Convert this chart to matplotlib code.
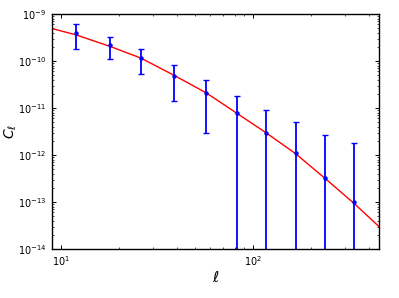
import numpy as np
import matplotlib
matplotlib.use("Agg")
import matplotlib.pyplot as plt
from matplotlib.ticker import NullFormatter

# binned power spectrum estimates
ell = [12, 18, 26, 39, 57, 82, 117, 166, 236, 336]
cl = [3.9e-10, 2.2e-10, 1.16e-10, 4.9e-11, 2.1e-11, 7.8e-12, 3.0e-12, 1.12e-12, 3.2e-13, 1.0e-13]
cl_err = [2.1e-10, 1.12e-10, 0.62e-10, 3.5e-11, 1.8e-11, 9.9e-12, 6.1e-12, 3.8e-12, 2.3e-12, 1.7e-12]

# model curve sampled along the red line
ell_model = [9, 12, 18, 26, 39, 57, 82, 117, 166, 236, 336, 451]
cl_model = [4.9e-10, 3.6e-10, 2.05e-10, 1.16e-10, 4.9e-11, 2.1e-11, 7.8e-12, 2.95e-12,
             1.07e-12, 3.2e-13, 9.2e-14, 3.0e-14]

fig = plt.figure(figsize=(3.99, 2.98), dpi=100)
ax = fig.add_axes([52 / 399, 1 - 249 / 298, 327 / 399, 235 / 298])

ax.plot(ell_model, cl_model, color='r', lw=1.0)
ax.errorbar(ell, cl, yerr=cl_err, fmt='o', color='b', ms=2.2, lw=1.3,
            capsize=2.5, capthick=1.0)

ax.set_xscale('log')
ax.set_yscale('log', nonpositive='clip')
ax.set_xlim(9, 451)
ax.set_ylim(1e-14, 1e-9)
ax.xaxis.set_minor_formatter(NullFormatter())
ax.yaxis.set_minor_formatter(NullFormatter())

ax.set_xlabel(r'$\ell$', fontsize=11)
ax.set_ylabel(r'$C_\ell$', fontsize=10)
ax.xaxis.set_label_coords(0.5, -0.09)
ax.yaxis.set_label_coords(-0.1, 0.5)

ax.tick_params(which='both', direction='in', top=True, right=True, labelsize=7, pad=4)
ax.tick_params(which='major', length=3, width=0.7)
ax.tick_params(which='minor', length=1.6, width=0.5)
for s in ax.spines.values():
    s.set_linewidth(1.0)

fig.savefig('out.png', dpi=100)
